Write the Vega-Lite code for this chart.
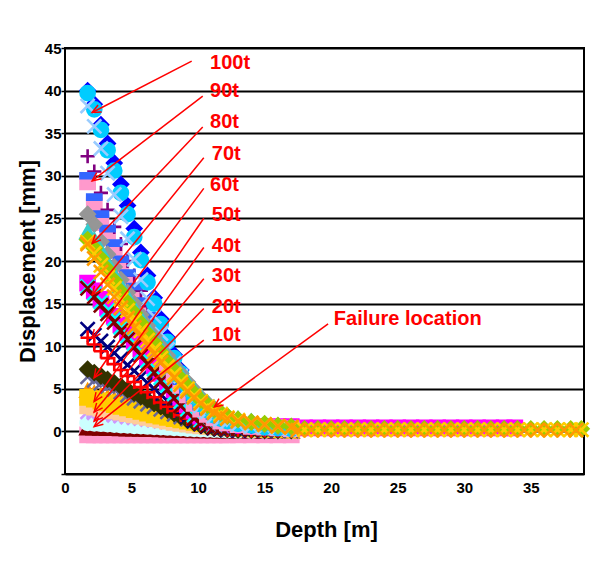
{
"$schema":"https://vega.github.io/schema/vega-lite/v6.json",
"width":519,"height":426,
"autosize":"none",
"padding":{"left":65,"top":48,"right":22,"bottom":87},
"background":"white",
"config":{"font":"Liberation Sans","view":{"stroke":"black","strokeWidth":2}},
"datasets":{
"ann":[
{"t":"100t","tx":10.9,"ty":43.2,"x1":9.52,"y1":43.45,"x2":2.04,"y2":37.43},
{"t":"90t","tx":10.9,"ty":40.0,"x1":10.35,"y1":39.36,"x2":2.04,"y2":29.4},
{"t":"80t","tx":10.9,"ty":36.3,"x1":10.35,"y1":35.73,"x2":2.04,"y2":22.06},
{"t":"70t","tx":11.03,"ty":32.6,"x1":10.43,"y1":32.13,"x2":2.04,"y2":16.02},
{"t":"60t","tx":10.9,"ty":28.9,"x1":10.43,"y1":28.53,"x2":2.04,"y2":10.92},
{"t":"50t","tx":11.03,"ty":25.4,"x1":10.43,"y1":25.02,"x2":2.19,"y2":6.3},
{"t":"40t","tx":11.03,"ty":21.8,"x1":10.43,"y1":21.59,"x2":2.19,"y2":3.52},
{"t":"30t","tx":11.03,"ty":18.2,"x1":10.43,"y1":17.91,"x2":2.19,"y2":2.27},
{"t":"20t","tx":11.03,"ty":14.6,"x1":10.43,"y1":14.42,"x2":2.19,"y2":1.21},
{"t":"10t","tx":11.03,"ty":11.3,"x1":10.43,"y1":10.72,"x2":2.19,"y2":0.56},
{"t":"Failure location","tx":20.2,"ty":13.2,"x1":19.77,"y1":12.63,"x2":11.22,"y2":2.87}
],
"pts":[
{"s":"z10","d":1.7,"v":-0.4},{"s":"z10","d":2.2,"v":-0.4},{"s":"z10","d":2.7,"v":-0.4},{"s":"z10","d":3.2,"v":-0.4},{"s":"z10","d":3.7,"v":-0.4},{"s":"z10","d":4.2,"v":-0.4},{"s":"z10","d":4.7,"v":-0.4},{"s":"z10","d":5.2,"v":-0.4},{"s":"z10","d":5.7,"v":-0.4},{"s":"z10","d":6.2,"v":-0.4},{"s":"z10","d":6.7,"v":-0.4},{"s":"z10","d":7.2,"v":-0.4},{"s":"z10","d":7.7,"v":-0.4},{"s":"z10","d":8.2,"v":-0.4},{"s":"z10","d":8.7,"v":-0.4},{"s":"z10","d":9.2,"v":-0.4},{"s":"z10","d":9.7,"v":-0.4},{"s":"z10","d":10.2,"v":-0.4},{"s":"z10","d":10.7,"v":-0.4},{"s":"z10","d":11.2,"v":-0.4},{"s":"z10","d":11.7,"v":-0.4},{"s":"z10","d":12.2,"v":-0.4},{"s":"z10","d":13,"v":-0.4},{"s":"z10","d":14,"v":-0.4},{"s":"z10","d":15,"v":-0.4},{"s":"z10","d":16,"v":-0.4},{"s":"z10","d":17,"v":-0.4},
{"s":"m10","d":1.7,"v":0.4},{"s":"m10","d":2.2,"v":0.38},{"s":"m10","d":2.7,"v":0.36},{"s":"m10","d":3.2,"v":0.34},{"s":"m10","d":3.7,"v":0.32},{"s":"m10","d":4.2,"v":0.3},{"s":"m10","d":4.7,"v":0.28},{"s":"m10","d":5.2,"v":0.26},{"s":"m10","d":5.7,"v":0.24},{"s":"m10","d":6.2,"v":0.22},{"s":"m10","d":6.7,"v":0.2},{"s":"m10","d":7.2,"v":0.18},{"s":"m10","d":7.7,"v":0.16},{"s":"m10","d":8.2,"v":0.14},{"s":"m10","d":8.7,"v":0.12},{"s":"m10","d":9.2,"v":0.1},{"s":"m10","d":9.7,"v":0.08},{"s":"m10","d":10.2,"v":0.07},{"s":"m10","d":10.7,"v":0.06},{"s":"m10","d":11.2,"v":0.05},{"s":"m10","d":11.7,"v":0.05},{"s":"m10","d":12.2,"v":0.04},{"s":"m10","d":13,"v":0.03},{"s":"m10","d":14,"v":0.03},{"s":"m10","d":15,"v":0.02},{"s":"m10","d":16,"v":0.02},{"s":"m10","d":17,"v":0.02},
{"s":"a20","d":1.7,"v":1.0},{"s":"a20","d":2.2,"v":0.95},{"s":"a20","d":2.7,"v":0.9},{"s":"a20","d":3.2,"v":0.85},{"s":"a20","d":3.7,"v":0.8},{"s":"a20","d":4.2,"v":0.75},{"s":"a20","d":4.7,"v":0.7},{"s":"a20","d":5.2,"v":0.66},{"s":"a20","d":5.7,"v":0.62},{"s":"a20","d":6.2,"v":0.58},{"s":"a20","d":6.7,"v":0.54},{"s":"a20","d":7.2,"v":0.5},{"s":"a20","d":7.7,"v":0.46},{"s":"a20","d":8.2,"v":0.42},{"s":"a20","d":8.7,"v":0.38},{"s":"a20","d":9.2,"v":0.34},{"s":"a20","d":9.7,"v":0.3},{"s":"a20","d":10.2,"v":0.27},{"s":"a20","d":10.7,"v":0.24},{"s":"a20","d":11.2,"v":0.21},{"s":"a20","d":11.7,"v":0.18},{"s":"a20","d":12.2,"v":0.16},{"s":"a20","d":13,"v":0.13},{"s":"a20","d":14,"v":0.11},{"s":"a20","d":15,"v":0.1},{"s":"a20","d":16,"v":0.1},{"s":"a20","d":17,"v":0.1},
{"s":"l30","d":1.7,"v":2.3},{"s":"l30","d":2.2,"v":2.2},{"s":"l30","d":2.7,"v":2.1},{"s":"l30","d":3.2,"v":2.0},{"s":"l30","d":3.7,"v":1.9},{"s":"l30","d":4.2,"v":1.8},{"s":"l30","d":4.7,"v":1.7},{"s":"l30","d":5.2,"v":1.6},{"s":"l30","d":5.7,"v":1.5},{"s":"l30","d":6.2,"v":1.4},{"s":"l30","d":6.7,"v":1.3},{"s":"l30","d":7.2,"v":1.2},{"s":"l30","d":7.7,"v":1.1},{"s":"l30","d":8.2,"v":1.0},{"s":"l30","d":8.7,"v":0.9},{"s":"l30","d":9.2,"v":0.8},{"s":"l30","d":9.7,"v":0.7},{"s":"l30","d":10.2,"v":0.6},{"s":"l30","d":10.7,"v":0.52},{"s":"l30","d":11.2,"v":0.45},{"s":"l30","d":11.7,"v":0.4},{"s":"l30","d":12.2,"v":0.35},{"s":"l30","d":13,"v":0.3},{"s":"l30","d":14,"v":0.25},{"s":"l30","d":15,"v":0.2},{"s":"l30","d":16,"v":0.18},{"s":"l30","d":17,"v":0.15},
{"s":"t30","d":1.7,"v":3.0},{"s":"t30","d":2.2,"v":2.85},{"s":"t30","d":2.7,"v":2.7},{"s":"t30","d":3.2,"v":2.55},{"s":"t30","d":3.7,"v":2.4},{"s":"t30","d":4.2,"v":2.25},{"s":"t30","d":4.7,"v":2.1},{"s":"t30","d":5.2,"v":1.95},{"s":"t30","d":5.7,"v":1.8},{"s":"t30","d":6.2,"v":1.65},{"s":"t30","d":6.7,"v":1.5},{"s":"t30","d":7.2,"v":1.35},{"s":"t30","d":7.7,"v":1.2},{"s":"t30","d":8.2,"v":1.07},{"s":"t30","d":8.7,"v":0.95},{"s":"t30","d":9.2,"v":0.84},{"s":"t30","d":9.7,"v":0.74},{"s":"t30","d":10.2,"v":0.65},{"s":"t30","d":10.7,"v":0.57},{"s":"t30","d":11.2,"v":0.5},{"s":"t30","d":11.7,"v":0.44},{"s":"t30","d":12.2,"v":0.38},{"s":"t30","d":13,"v":0.32},{"s":"t30","d":14,"v":0.26},{"s":"t30","d":15,"v":0.22},{"s":"t30","d":16,"v":0.18},{"s":"t30","d":17,"v":0.15},
{"s":"o40","d":1.7,"v":4.8},{"s":"o40","d":2.2,"v":4.5},{"s":"o40","d":2.7,"v":4.25},{"s":"o40","d":3.2,"v":4.0},{"s":"o40","d":3.7,"v":3.75},{"s":"o40","d":4.2,"v":3.5},{"s":"o40","d":4.7,"v":3.25},{"s":"o40","d":5.2,"v":3.0},{"s":"o40","d":5.7,"v":2.75},{"s":"o40","d":6.2,"v":2.5},{"s":"o40","d":6.7,"v":2.3},{"s":"o40","d":7.2,"v":2.1},{"s":"o40","d":7.7,"v":1.9},{"s":"o40","d":8.2,"v":1.7},{"s":"o40","d":8.7,"v":1.5},{"s":"o40","d":9.2,"v":1.3},{"s":"o40","d":9.7,"v":1.15},{"s":"o40","d":10.2,"v":1.0},{"s":"o40","d":10.7,"v":0.85},{"s":"o40","d":11.2,"v":0.72},{"s":"o40","d":11.7,"v":0.6},{"s":"o40","d":12.2,"v":0.5},{"s":"o40","d":13,"v":0.4},{"s":"o40","d":14,"v":0.3},{"s":"o40","d":15,"v":0.25},{"s":"o40","d":16,"v":0.2},{"s":"o40","d":17,"v":0.18},
{"s":"y40","d":1.7,"v":4.0},{"s":"y40","d":2.2,"v":3.8},{"s":"y40","d":2.7,"v":3.55},{"s":"y40","d":3.2,"v":3.35},{"s":"y40","d":3.7,"v":3.15},{"s":"y40","d":4.2,"v":2.95},{"s":"y40","d":4.7,"v":2.75},{"s":"y40","d":5.2,"v":2.55},{"s":"y40","d":5.7,"v":2.35},{"s":"y40","d":6.2,"v":2.15},{"s":"y40","d":6.7,"v":1.95},{"s":"y40","d":7.2,"v":1.8},{"s":"y40","d":7.7,"v":1.65},{"s":"y40","d":8.2,"v":1.5},{"s":"y40","d":8.7,"v":1.35},{"s":"y40","d":9.2,"v":1.2},{"s":"y40","d":9.7,"v":1.05},{"s":"y40","d":10.2,"v":0.9},{"s":"y40","d":10.7,"v":0.77},{"s":"y40","d":11.2,"v":0.65},{"s":"y40","d":11.7,"v":0.55},{"s":"y40","d":12.2,"v":0.46},{"s":"y40","d":13,"v":0.37},{"s":"y40","d":14,"v":0.3},{"s":"y40","d":15,"v":0.24},{"s":"y40","d":16,"v":0.2},{"s":"y40","d":17,"v":0.16},
{"s":"u50","d":1.7,"v":6.4},{"s":"u50","d":2.2,"v":6.0},{"s":"u50","d":2.7,"v":5.65},{"s":"u50","d":3.2,"v":5.3},{"s":"u50","d":3.7,"v":4.95},{"s":"u50","d":4.2,"v":4.6},{"s":"u50","d":4.7,"v":4.25},{"s":"u50","d":5.2,"v":3.9},{"s":"u50","d":5.7,"v":3.55},{"s":"u50","d":6.2,"v":3.2},{"s":"u50","d":6.7,"v":2.9},{"s":"u50","d":7.2,"v":2.6},{"s":"u50","d":7.7,"v":2.3},{"s":"u50","d":8.2,"v":2.0},{"s":"u50","d":8.7,"v":1.7},{"s":"u50","d":9.2,"v":1.45},{"s":"u50","d":9.7,"v":1.2},{"s":"u50","d":10.2,"v":0.95},{"s":"u50","d":10.7,"v":0.75},{"s":"u50","d":11.2,"v":0.58},{"s":"u50","d":11.7,"v":0.45},{"s":"u50","d":12.2,"v":0.35},{"s":"u50","d":13,"v":0.25},{"s":"u50","d":14,"v":0.18},{"s":"u50","d":15,"v":0.14},{"s":"u50","d":16,"v":0.12},{"s":"u50","d":17,"v":0.1},
{"s":"o50","d":1.7,"v":7.3},{"s":"o50","d":2.2,"v":6.9},{"s":"o50","d":2.7,"v":6.5},{"s":"o50","d":3.2,"v":6.1},{"s":"o50","d":3.7,"v":5.7},{"s":"o50","d":4.2,"v":5.3},{"s":"o50","d":4.7,"v":4.9},{"s":"o50","d":5.2,"v":4.5},{"s":"o50","d":5.7,"v":4.1},{"s":"o50","d":6.2,"v":3.7},{"s":"o50","d":6.7,"v":3.3},{"s":"o50","d":7.2,"v":2.9},{"s":"o50","d":7.7,"v":2.5},{"s":"o50","d":8.2,"v":2.1},{"s":"o50","d":8.7,"v":1.7},{"s":"o50","d":9.2,"v":1.3},{"s":"o50","d":9.7,"v":1.0},{"s":"o50","d":10.2,"v":0.7},{"s":"o50","d":10.7,"v":0.5},{"s":"o50","d":11.2,"v":0.35},{"s":"o50","d":11.7,"v":0.25},{"s":"o50","d":12.2,"v":0.2},{"s":"o50","d":13,"v":0.15},{"s":"o50","d":14,"v":0.12},{"s":"o50","d":15,"v":0.1},{"s":"o50","d":16,"v":0.1},{"s":"o50","d":17,"v":0.1},
{"s":"n60","d":1.7,"v":12.0},{"s":"n60","d":2.2,"v":11.3},{"s":"n60","d":2.7,"v":10.6},{"s":"n60","d":3.2,"v":9.9},{"s":"n60","d":3.7,"v":9.2},{"s":"n60","d":4.2,"v":8.5},{"s":"n60","d":4.7,"v":7.8},{"s":"n60","d":5.2,"v":7.1},{"s":"n60","d":5.7,"v":6.4},{"s":"n60","d":6.2,"v":5.7},{"s":"n60","d":6.7,"v":5.0},{"s":"n60","d":7.2,"v":4.3},{"s":"n60","d":7.7,"v":3.6},{"s":"n60","d":8.2,"v":3.0},{"s":"n60","d":8.7,"v":2.4},{"s":"n60","d":9.2,"v":1.8},{"s":"n60","d":9.7,"v":1.3},{"s":"n60","d":10.2,"v":0.9},{"s":"n60","d":10.7,"v":0.6},{"s":"n60","d":11.2,"v":0.4},{"s":"n60","d":11.7,"v":0.3},{"s":"n60","d":12.2,"v":0.2},{"s":"n60","d":13,"v":0.15},{"s":"n60","d":14,"v":0.1},{"s":"n60","d":15,"v":0.1},{"s":"n60","d":16,"v":0.1},{"s":"n60","d":17,"v":0.1},
{"s":"r60","d":1.7,"v":11.0},{"s":"r60","d":2.2,"v":10.2},{"s":"r60","d":2.7,"v":9.4},{"s":"r60","d":3.2,"v":8.6},{"s":"r60","d":3.7,"v":7.9},{"s":"r60","d":4.2,"v":7.2},{"s":"r60","d":4.7,"v":6.5},{"s":"r60","d":5.2,"v":5.8},{"s":"r60","d":5.7,"v":5.2},{"s":"r60","d":6.2,"v":4.6},{"s":"r60","d":6.7,"v":4.0},{"s":"r60","d":7.2,"v":3.4},{"s":"r60","d":7.7,"v":2.9},{"s":"r60","d":8.2,"v":2.4},{"s":"r60","d":8.7,"v":1.9},{"s":"r60","d":9.2,"v":1.5},{"s":"r60","d":9.7,"v":1.1},{"s":"r60","d":10.2,"v":0.8},{"s":"r60","d":10.7,"v":0.6},{"s":"r60","d":11.2,"v":0.4},{"s":"r60","d":11.7,"v":0.3},{"s":"r60","d":12.2,"v":0.2},{"s":"r60","d":13,"v":0.2},{"s":"r60","d":14,"v":0.1},{"s":"r60","d":15,"v":0.1},{"s":"r60","d":16,"v":0.1},{"s":"r60","d":17,"v":0.1},
{"s":"q70","d":1.7,"v":17.4},{"s":"q70","d":2.2,"v":16.5},{"s":"q70","d":2.7,"v":15.5},{"s":"q70","d":3.2,"v":14.5},{"s":"q70","d":3.7,"v":13.5},{"s":"q70","d":4.2,"v":12.5},{"s":"q70","d":4.7,"v":11.6},{"s":"q70","d":5.2,"v":10.6},{"s":"q70","d":5.7,"v":9.7},{"s":"q70","d":6.2,"v":8.7},{"s":"q70","d":6.7,"v":7.7},{"s":"q70","d":7.2,"v":6.8},{"s":"q70","d":7.7,"v":5.8},{"s":"q70","d":8.2,"v":4.9},{"s":"q70","d":8.7,"v":4.0},{"s":"q70","d":9.2,"v":3.1},{"s":"q70","d":9.7,"v":2.4},{"s":"q70","d":10.2,"v":1.8},{"s":"q70","d":10.7,"v":1.4},{"s":"q70","d":11.2,"v":1.1},{"s":"q70","d":11.7,"v":0.9},{"s":"q70","d":12.2,"v":0.8},{"s":"q70","d":13,"v":0.7},{"s":"q70","d":14,"v":0.6},{"s":"q70","d":15,"v":0.6},{"s":"q70","d":16,"v":0.55},{"s":"q70","d":17,"v":0.55},
{"s":"q70","d":18,"v":0.4},{"s":"q70","d":19,"v":0.4},{"s":"q70","d":20,"v":0.4},{"s":"q70","d":21,"v":0.4},{"s":"q70","d":22,"v":0.4},{"s":"q70","d":23,"v":0.4},{"s":"q70","d":24,"v":0.4},{"s":"q70","d":25,"v":0.4},{"s":"q70","d":26,"v":0.4},{"s":"q70","d":27,"v":0.4},{"s":"q70","d":28,"v":0.4},{"s":"q70","d":29,"v":0.4},{"s":"q70","d":30,"v":0.4},{"s":"q70","d":31,"v":0.4},{"s":"q70","d":32,"v":0.4},{"s":"q70","d":33,"v":0.4},{"s":"q70","d":33.8,"v":0.4},
{"s":"c70","d":1.7,"v":17.0},{"s":"c70","d":2.2,"v":16.2},{"s":"c70","d":2.7,"v":15.2},{"s":"c70","d":3.2,"v":14.2},{"s":"c70","d":3.7,"v":13.2},{"s":"c70","d":4.2,"v":12.2},{"s":"c70","d":4.7,"v":11.2},{"s":"c70","d":5.2,"v":10.3},{"s":"c70","d":5.7,"v":9.3},{"s":"c70","d":6.2,"v":8.3},{"s":"c70","d":6.7,"v":7.3},{"s":"c70","d":7.2,"v":6.3},{"s":"c70","d":7.7,"v":5.4},{"s":"c70","d":8.2,"v":4.4},{"s":"c70","d":8.7,"v":3.5},{"s":"c70","d":9.2,"v":2.6},{"s":"c70","d":9.7,"v":1.9},{"s":"c70","d":10.2,"v":1.3},{"s":"c70","d":10.7,"v":0.9},{"s":"c70","d":11.2,"v":0.6},{"s":"c70","d":11.7,"v":0.45},{"s":"c70","d":12.2,"v":0.35},{"s":"c70","d":13,"v":0.3},{"s":"c70","d":14,"v":0.25},{"s":"c70","d":15,"v":0.2},{"s":"c70","d":16,"v":0.2},{"s":"c70","d":17,"v":0.2},
{"s":"m70","d":1.7,"v":16.8},{"s":"m70","d":2.2,"v":15.8},{"s":"m70","d":2.7,"v":14.8},{"s":"m70","d":3.2,"v":13.8},{"s":"m70","d":3.7,"v":12.8},{"s":"m70","d":4.2,"v":11.8},{"s":"m70","d":4.7,"v":10.8},{"s":"m70","d":5.2,"v":9.9},{"s":"m70","d":5.7,"v":8.9},{"s":"m70","d":6.2,"v":7.9},{"s":"m70","d":6.7,"v":6.9},{"s":"m70","d":7.2,"v":5.9},{"s":"m70","d":7.7,"v":4.9},{"s":"m70","d":8.2,"v":3.9},{"s":"m70","d":8.7,"v":3.0},{"s":"m70","d":9.2,"v":2.2},{"s":"m70","d":9.7,"v":1.5},{"s":"m70","d":10.2,"v":1.0},{"s":"m70","d":10.7,"v":0.7},{"s":"m70","d":11.2,"v":0.5},{"s":"m70","d":11.7,"v":0.4},{"s":"m70","d":12.2,"v":0.3},{"s":"m70","d":13,"v":0.3},{"s":"m70","d":14,"v":0.2},{"s":"m70","d":15,"v":0.2},{"s":"m70","d":16,"v":0.2},{"s":"m70","d":17,"v":0.2},
{"s":"k90","d":1.7,"v":29.3},{"s":"k90","d":2.2,"v":26.5},{"s":"k90","d":2.7,"v":24.5},{"s":"k90","d":3.2,"v":23.0},{"s":"k90","d":3.7,"v":21.3},{"s":"k90","d":4.2,"v":19.3},{"s":"k90","d":4.7,"v":17.7},{"s":"k90","d":5.2,"v":16.2},{"s":"k90","d":5.7,"v":14.5},{"s":"k90","d":6.2,"v":12.8},{"s":"k90","d":6.7,"v":11.2},{"s":"k90","d":7.2,"v":9.6},{"s":"k90","d":7.7,"v":8.1},{"s":"k90","d":8.2,"v":6.7},{"s":"k90","d":8.7,"v":5.4},{"s":"k90","d":9.2,"v":4.3},{"s":"k90","d":9.7,"v":3.3},{"s":"k90","d":10.2,"v":2.6},{"s":"k90","d":10.7,"v":2.0},{"s":"k90","d":11.2,"v":1.6},{"s":"k90","d":11.7,"v":1.2},{"s":"k90","d":12.2,"v":1.0},{"s":"k90","d":13,"v":0.8},{"s":"k90","d":14,"v":0.6},{"s":"k90","d":15,"v":0.5},{"s":"k90","d":16,"v":0.4},{"s":"k90","d":17,"v":0.3},
{"s":"p90","d":1.7,"v":32.3},{"s":"p90","d":2.2,"v":30.5},{"s":"p90","d":2.7,"v":28.0},{"s":"p90","d":3.2,"v":26.0},{"s":"p90","d":3.7,"v":24.0},{"s":"p90","d":4.2,"v":22.0},{"s":"p90","d":4.7,"v":20.0},{"s":"p90","d":5.2,"v":18.3},{"s":"p90","d":5.7,"v":16.5},{"s":"p90","d":6.2,"v":14.7},{"s":"p90","d":6.7,"v":13.0},{"s":"p90","d":7.2,"v":11.2},{"s":"p90","d":7.7,"v":9.5},{"s":"p90","d":8.2,"v":8.0},{"s":"p90","d":8.7,"v":6.5},{"s":"p90","d":9.2,"v":5.2},{"s":"p90","d":9.7,"v":4.0},{"s":"p90","d":10.2,"v":3.1},{"s":"p90","d":10.7,"v":2.4},{"s":"p90","d":11.2,"v":1.8},{"s":"p90","d":11.7,"v":1.4},{"s":"p90","d":12.2,"v":1.1},{"s":"p90","d":13,"v":0.8},{"s":"p90","d":14,"v":0.6},{"s":"p90","d":15,"v":0.5},{"s":"p90","d":16,"v":0.4},{"s":"p90","d":17,"v":0.3},
{"s":"d90","d":1.7,"v":30.0},{"s":"d90","d":2.2,"v":27.5},{"s":"d90","d":2.7,"v":25.5},{"s":"d90","d":3.2,"v":23.8},{"s":"d90","d":3.7,"v":22.1},{"s":"d90","d":4.2,"v":20.2},{"s":"d90","d":4.7,"v":18.6},{"s":"d90","d":5.2,"v":17.0},{"s":"d90","d":5.7,"v":15.3},{"s":"d90","d":6.2,"v":13.6},{"s":"d90","d":6.7,"v":12.0},{"s":"d90","d":7.2,"v":10.4},{"s":"d90","d":7.7,"v":8.8},{"s":"d90","d":8.2,"v":7.3},{"s":"d90","d":8.7,"v":5.9},{"s":"d90","d":9.2,"v":4.7},{"s":"d90","d":9.7,"v":3.7},{"s":"d90","d":10.2,"v":2.9},{"s":"d90","d":10.7,"v":2.3},{"s":"d90","d":11.2,"v":1.8},{"s":"d90","d":11.7,"v":1.4},{"s":"d90","d":12.2,"v":1.1},{"s":"d90","d":13,"v":0.8},{"s":"d90","d":14,"v":0.6},{"s":"d90","d":15,"v":0.5},{"s":"d90","d":16,"v":0.4},{"s":"d90","d":17,"v":0.3},
{"s":"b100","d":1.7,"v":40.0},{"s":"b100","d":2.2,"v":38.4},{"s":"b100","d":2.7,"v":36.0},{"s":"b100","d":3.2,"v":33.8},{"s":"b100","d":3.7,"v":31.5},{"s":"b100","d":4.2,"v":29.0},{"s":"b100","d":4.7,"v":26.5},{"s":"b100","d":5.2,"v":23.8},{"s":"b100","d":5.7,"v":21.0},{"s":"b100","d":6.2,"v":18.3},{"s":"b100","d":6.7,"v":15.7},{"s":"b100","d":7.2,"v":13.2},{"s":"b100","d":7.7,"v":11.0},{"s":"b100","d":8.2,"v":9.0},{"s":"b100","d":8.7,"v":7.2},{"s":"b100","d":9.2,"v":5.6},{"s":"b100","d":9.7,"v":4.3},{"s":"b100","d":10.2,"v":3.3},{"s":"b100","d":10.7,"v":2.6},{"s":"b100","d":11.2,"v":2.0},{"s":"b100","d":11.7,"v":1.6},{"s":"b100","d":12.2,"v":1.3},{"s":"b100","d":13,"v":1.0},{"s":"b100","d":14,"v":0.7},{"s":"b100","d":15,"v":0.5},{"s":"b100","d":16,"v":0.4},{"s":"b100","d":17,"v":0.3},
{"s":"c100","d":1.7,"v":39.7},{"s":"c100","d":2.2,"v":37.8},{"s":"c100","d":2.7,"v":35.4},{"s":"c100","d":3.2,"v":33.0},{"s":"c100","d":3.7,"v":30.6},{"s":"c100","d":4.2,"v":28.0},{"s":"c100","d":4.7,"v":25.5},{"s":"c100","d":5.2,"v":22.8},{"s":"c100","d":5.7,"v":20.1},{"s":"c100","d":6.2,"v":17.5},{"s":"c100","d":6.7,"v":15.0},{"s":"c100","d":7.2,"v":12.6},{"s":"c100","d":7.7,"v":10.5},{"s":"c100","d":8.2,"v":8.6},{"s":"c100","d":8.7,"v":6.8},{"s":"c100","d":9.2,"v":5.3},{"s":"c100","d":9.7,"v":4.1},{"s":"c100","d":10.2,"v":3.2},{"s":"c100","d":10.7,"v":2.5},{"s":"c100","d":11.2,"v":1.9},{"s":"c100","d":11.7,"v":1.5},{"s":"c100","d":12.2,"v":1.2},{"s":"c100","d":13,"v":0.9},{"s":"c100","d":14,"v":0.7},{"s":"c100","d":15,"v":0.5},{"s":"c100","d":16,"v":0.4},{"s":"c100","d":17,"v":0.3},
{"s":"x100","d":1.7,"v":38.2},{"s":"x100","d":2.2,"v":35.8},{"s":"x100","d":2.7,"v":33.2},{"s":"x100","d":3.2,"v":30.3},{"s":"x100","d":3.7,"v":27.8},{"s":"x100","d":4.2,"v":25.2},{"s":"x100","d":4.7,"v":22.6},{"s":"x100","d":5.2,"v":20.2},{"s":"x100","d":5.7,"v":17.8},{"s":"x100","d":6.2,"v":15.6},{"s":"x100","d":6.7,"v":13.5},{"s":"x100","d":7.2,"v":11.5},{"s":"x100","d":7.7,"v":9.6},{"s":"x100","d":8.2,"v":8.0},{"s":"x100","d":8.7,"v":6.5},{"s":"x100","d":9.2,"v":5.1},{"s":"x100","d":9.7,"v":3.9},{"s":"x100","d":10.2,"v":3.0},{"s":"x100","d":10.7,"v":2.3},{"s":"x100","d":11.2,"v":1.8},{"s":"x100","d":11.7,"v":1.4},{"s":"x100","d":12.2,"v":1.1},{"s":"x100","d":13,"v":0.8},{"s":"x100","d":14,"v":0.6},{"s":"x100","d":15,"v":0.5},{"s":"x100","d":16,"v":0.4},{"s":"x100","d":17,"v":0.3},
{"s":"r80","d":1.7,"v":25.5},{"s":"r80","d":2.2,"v":24.3},{"s":"r80","d":2.7,"v":22.3},{"s":"r80","d":3.2,"v":20.8},{"s":"r80","d":3.7,"v":19.3},{"s":"r80","d":4.2,"v":17.8},{"s":"r80","d":4.7,"v":16.3},{"s":"r80","d":5.2,"v":15.0},{"s":"r80","d":5.7,"v":13.7},{"s":"r80","d":6.2,"v":12.4},{"s":"r80","d":6.7,"v":11.2},{"s":"r80","d":7.2,"v":10.0},{"s":"r80","d":7.7,"v":8.9},{"s":"r80","d":8.2,"v":7.8},{"s":"r80","d":8.7,"v":6.8},{"s":"r80","d":9.2,"v":5.8},{"s":"r80","d":9.7,"v":4.9},{"s":"r80","d":10.2,"v":4.0},{"s":"r80","d":10.7,"v":3.3},{"s":"r80","d":11.2,"v":2.7},{"s":"r80","d":11.7,"v":2.2},{"s":"r80","d":12.2,"v":1.8},{"s":"r80","d":13,"v":1.4},{"s":"r80","d":14,"v":1.1},{"s":"r80","d":15,"v":0.8},{"s":"r80","d":16,"v":0.6},{"s":"r80","d":17,"v":0.5},
{"s":"t80","d":1.7,"v":23.4},{"s":"t80","d":2.2,"v":22.5},{"s":"t80","d":2.7,"v":21.2},{"s":"t80","d":3.2,"v":19.8},{"s":"t80","d":3.7,"v":18.4},{"s":"t80","d":4.2,"v":17.1},{"s":"t80","d":4.7,"v":15.8},{"s":"t80","d":5.2,"v":14.5},{"s":"t80","d":5.7,"v":13.3},{"s":"t80","d":6.2,"v":12.1},{"s":"t80","d":6.7,"v":10.9},{"s":"t80","d":7.2,"v":9.8},{"s":"t80","d":7.7,"v":8.7},{"s":"t80","d":8.2,"v":7.7},{"s":"t80","d":8.7,"v":6.7},{"s":"t80","d":9.2,"v":5.8},{"s":"t80","d":9.7,"v":4.9},{"s":"t80","d":10.2,"v":4.1},{"s":"t80","d":10.7,"v":3.4},{"s":"t80","d":11.2,"v":2.8},{"s":"t80","d":11.7,"v":2.3},{"s":"t80","d":12.2,"v":1.9},{"s":"t80","d":13,"v":1.5},{"s":"t80","d":14,"v":1.2},{"s":"t80","d":15,"v":0.9},{"s":"t80","d":16,"v":0.7},{"s":"t80","d":17,"v":0.6},
{"s":"g80","d":1.7,"v":22.5},{"s":"g80","d":2.2,"v":21.5},{"s":"g80","d":2.7,"v":20.3},{"s":"g80","d":3.2,"v":19.0},{"s":"g80","d":3.7,"v":17.7},{"s":"g80","d":4.2,"v":16.4},{"s":"g80","d":4.7,"v":15.1},{"s":"g80","d":5.2,"v":13.9},{"s":"g80","d":5.7,"v":12.7},{"s":"g80","d":6.2,"v":11.5},{"s":"g80","d":6.7,"v":10.4},{"s":"g80","d":7.2,"v":9.3},{"s":"g80","d":7.7,"v":8.2},{"s":"g80","d":8.2,"v":7.2},{"s":"g80","d":8.7,"v":6.2},{"s":"g80","d":9.2,"v":5.3},{"s":"g80","d":9.7,"v":4.5},{"s":"g80","d":10.2,"v":3.7},{"s":"g80","d":10.7,"v":3.1},{"s":"g80","d":11.2,"v":2.6},{"s":"g80","d":11.7,"v":2.2},{"s":"g80","d":12.2,"v":1.8},{"s":"g80","d":13,"v":1.4},{"s":"g80","d":14,"v":1.1},{"s":"g80","d":15,"v":0.9},{"s":"g80","d":16,"v":0.7},{"s":"g80","d":17,"v":0.6},
{"s":"g80","d":18,"v":0.3},{"s":"g80","d":19,"v":0.3},{"s":"g80","d":20,"v":0.3},{"s":"g80","d":21,"v":0.3},{"s":"g80","d":22,"v":0.3},{"s":"g80","d":23,"v":0.3},{"s":"g80","d":24,"v":0.3},{"s":"g80","d":25,"v":0.3},{"s":"g80","d":26,"v":0.3},{"s":"g80","d":27,"v":0.3},{"s":"g80","d":28,"v":0.3},{"s":"g80","d":29,"v":0.3},{"s":"g80","d":30,"v":0.3},{"s":"g80","d":31,"v":0.3},{"s":"g80","d":32,"v":0.3},{"s":"g80","d":33,"v":0.3},{"s":"g80","d":34,"v":0.3},{"s":"g80","d":35,"v":0.3},{"s":"g80","d":36,"v":0.3},{"s":"g80","d":37,"v":0.3},{"s":"g80","d":38,"v":0.3},{"s":"g80","d":38.8,"v":0.3},
{"s":"y80","d":1.7,"v":22.2},{"s":"y80","d":2.2,"v":20.9},{"s":"y80","d":2.7,"v":19.5},{"s":"y80","d":3.2,"v":18.1},{"s":"y80","d":3.7,"v":16.8},{"s":"y80","d":4.2,"v":15.5},{"s":"y80","d":4.7,"v":14.2},{"s":"y80","d":5.2,"v":13.0},{"s":"y80","d":5.7,"v":11.8},{"s":"y80","d":6.2,"v":10.7},{"s":"y80","d":6.7,"v":9.6},{"s":"y80","d":7.2,"v":8.6},{"s":"y80","d":7.7,"v":7.6},{"s":"y80","d":8.2,"v":6.7},{"s":"y80","d":8.7,"v":5.8},{"s":"y80","d":9.2,"v":5.0},{"s":"y80","d":9.7,"v":4.2},{"s":"y80","d":10.2,"v":3.5},{"s":"y80","d":10.7,"v":2.9},{"s":"y80","d":11.2,"v":2.4},{"s":"y80","d":11.7,"v":2.0},{"s":"y80","d":12.2,"v":1.6},{"s":"y80","d":13,"v":1.3},{"s":"y80","d":14,"v":1.0},{"s":"y80","d":15,"v":0.8},{"s":"y80","d":16,"v":0.6},{"s":"y80","d":17,"v":0.5},
{"s":"y80","d":18,"v":0.2},{"s":"y80","d":19,"v":0.2},{"s":"y80","d":20,"v":0.2},{"s":"y80","d":21,"v":0.2},{"s":"y80","d":22,"v":0.2},{"s":"y80","d":23,"v":0.2},{"s":"y80","d":24,"v":0.2},{"s":"y80","d":25,"v":0.2},{"s":"y80","d":26,"v":0.2},{"s":"y80","d":27,"v":0.2},{"s":"y80","d":28,"v":0.2},{"s":"y80","d":29,"v":0.2},{"s":"y80","d":30,"v":0.2},{"s":"y80","d":31,"v":0.2},{"s":"y80","d":32,"v":0.2},{"s":"y80","d":33,"v":0.2},{"s":"y80","d":34,"v":0.2},{"s":"y80","d":35,"v":0.2},{"s":"y80","d":36,"v":0.2},{"s":"y80","d":37,"v":0.2},{"s":"y80","d":38,"v":0.2},{"s":"y80","d":38.8,"v":0.2},
{"s":"o80","d":1.7,"v":22.0},{"s":"o80","d":2.2,"v":20.3},{"s":"o80","d":2.7,"v":18.7},{"s":"o80","d":3.2,"v":17.2},{"s":"o80","d":3.7,"v":15.8},{"s":"o80","d":4.2,"v":14.5},{"s":"o80","d":4.7,"v":13.3},{"s":"o80","d":5.2,"v":12.2},{"s":"o80","d":5.7,"v":11.1},{"s":"o80","d":6.2,"v":10.1},{"s":"o80","d":6.7,"v":9.1},{"s":"o80","d":7.2,"v":8.1},{"s":"o80","d":7.7,"v":7.2},{"s":"o80","d":8.2,"v":6.3},{"s":"o80","d":8.7,"v":5.5},{"s":"o80","d":9.2,"v":4.7},{"s":"o80","d":9.7,"v":4.0},{"s":"o80","d":10.2,"v":3.3},{"s":"o80","d":10.7,"v":2.7},{"s":"o80","d":11.2,"v":2.2},{"s":"o80","d":11.7,"v":1.8},{"s":"o80","d":12.2,"v":1.5},{"s":"o80","d":13,"v":1.2},{"s":"o80","d":14,"v":1.0},{"s":"o80","d":15,"v":0.8},{"s":"o80","d":16,"v":0.6},{"s":"o80","d":17,"v":0.5},
{"s":"o80","d":17.5,"v":0.15},{"s":"o80","d":18.5,"v":0.15},{"s":"o80","d":19.5,"v":0.15},{"s":"o80","d":20.5,"v":0.15},{"s":"o80","d":21.5,"v":0.15},{"s":"o80","d":22.5,"v":0.15},{"s":"o80","d":23.5,"v":0.15},{"s":"o80","d":24.5,"v":0.15},{"s":"o80","d":25.5,"v":0.15},{"s":"o80","d":26.5,"v":0.15},{"s":"o80","d":27.5,"v":0.15},{"s":"o80","d":28.5,"v":0.15},{"s":"o80","d":29.5,"v":0.15},{"s":"o80","d":30.5,"v":0.15},{"s":"o80","d":31.5,"v":0.15},{"s":"o80","d":32.5,"v":0.15},{"s":"o80","d":33.5,"v":0.15},{"s":"o80","d":34.5,"v":0.15},{"s":"o80","d":35.5,"v":0.15},{"s":"o80","d":36.5,"v":0.15},{"s":"o80","d":37.5,"v":0.15},{"s":"o80","d":38.4,"v":0.15}
]
},
"layer":[
{
"data":{"name":"pts"},
"mark":{"type":"point","filled":true,"size":200,"strokeWidth":2.6,"opacity":1},
"encoding":{
"x":{"field":"d","type":"quantitative","scale":{"domain":[0,39],"nice":false,"zero":false},
"axis":{"title":"Depth [m]","values":[0,5,10,15,20,25,30,35],"grid":false,"ticks":false,"domain":false,"labelFontSize":15,"labelFontWeight":"bold","labelColor":"black","labelPadding":6,"labelFlush":false,"titleFontSize":22,"titleFontWeight":"bold","titleColor":"black","titleX":261,"titleY":55,"titleBaseline":"middle","titleAlign":"center"}},
"y":{"field":"v","type":"quantitative","scale":{"domain":[-5,45],"nice":false,"zero":false},
"axis":{"title":"Displacement [mm]","values":[-5,0,5,10,15,20,25,30,35,40,45],"grid":true,"gridColor":"black","gridWidth":2,"gridOpacity":1,"domain":false,"ticks":true,"tickSize":4,"tickColor":"black","tickWidth":1.5,"labelFontSize":15,"labelFontWeight":"bold","labelColor":"black","labelPadding":0,"labelFlush":false,"labelExpr":"datum.value < 0 ? '' : datum.label","encode":{"labels":{"update":{"dy":{"signal":"(45 - datum.value) * 0.29"}}}},"titleFontSize":22,"titleFontWeight":"bold","titleColor":"black","titleX":-38,"titleY":213,"titleAngle":-90,"titleBaseline":"middle","titleAlign":"center"}},
"shape":{"field":"s","type":"nominal","legend":null,"scale":{
"domain":["z10","m10","a20","l30","t30","o40","y40","u50","o50","n60","r60","q70","c70","m70","k90","p90","d90","b100","c100","x100","r80","t80","g80","y80","o80"],
"range":["square","triangle-up","circle","M-1,-1L1,1M-1,1L1,-1M0,-1L0,1","square","triangle-up","square","M-1,-1L1,1M-1,1L1,-1","diamond","M-1,-1L1,1M-1,1L1,-1","M0,-1L0,1M-1,0L1,0","square","M-1,-1L1,1M-1,1L1,-1","M-1,-1L1,1M-1,1L1,-1","square","M0,-1L0,1M-1,0L1,0","M-1,-0.35L1,-0.35L1,0.35L-1,0.35Z","diamond","circle","M-1,-1L1,1M-1,1L1,-1","diamond","triangle-up","diamond","M-1,-1L1,1M-1,1L1,-1","M-1,-1L1,1M-1,1L1,-1"]}},
"fill":{"field":"s","type":"nominal","legend":null,"scale":{
"domain":["z10","m10","a20","l30","t30","o40","y40","u50","o50","n60","r60","q70","c70","m70","k90","p90","d90","b100","c100","x100","r80","t80","g80","y80","o80"],
"range":["#FF99CC","#800000","#CCFFFF","#CC99FF","#FFCC99","#FF9900","#FFCC00","#666699","#333300","#000080","#FF0000","#FF00FF","#00FFFF","#800000","#FF99CC","#800080","#3366FF","#0000FF","#00CCFF","#99CCFF","#969696","#33CCCC","#99CC00","#FFCC00","#FF9900"]}},
"stroke":{"field":"s","type":"nominal","legend":null,"scale":{
"domain":["z10","m10","a20","l30","t30","o40","y40","u50","o50","n60","r60","q70","c70","m70","k90","p90","d90","b100","c100","x100","r80","t80","g80","y80","o80"],
"range":["#FF99CC","#800000","#CCFFFF","#CC99FF","#FFCC99","#FF9900","#FFCC00","#666699","#333300","#000080","#FF0000","#FF00FF","#00FFFF","#800000","#FF99CC","#800080","#3366FF","#0000FF","#00CCFF","#99CCFF","#969696","#33CCCC","#99CC00","#FFCC00","#FF9900"]}}
}
},
{
"data":{"name":"ann"},
"mark":{"type":"rule","color":"#FF0000","strokeWidth":1.5},
"encoding":{
"x":{"field":"x1","type":"quantitative","title":"Depth [m]","scale":{"domain":[0,39],"nice":false,"zero":false}},
"y":{"field":"y1","type":"quantitative","title":"Displacement [mm]","scale":{"domain":[-5,45],"nice":false,"zero":false}},
"x2":{"field":"x2"},
"y2":{"field":"y2"}
}
},
{
"data":{"name":"ann"},
"transform":[{"calculate":"atan2(-(datum.x2-datum.x1)*519/39, -(datum.y2-datum.y1)*426/50)*180/PI","as":"ang"}],
"mark":{"type":"point","filled":false,"shape":"M-0.45,-1L0,0L0.45,-1","size":300,"color":"#FF0000","strokeWidth":1.5,"opacity":1},
"encoding":{
"x":{"field":"x2","type":"quantitative","title":"Depth [m]","scale":{"domain":[0,39],"nice":false,"zero":false}},
"y":{"field":"y2","type":"quantitative","title":"Displacement [mm]","scale":{"domain":[-5,45],"nice":false,"zero":false}},
"angle":{"field":"ang","type":"quantitative","scale":null}
}
},
{
"data":{"name":"ann"},
"mark":{"type":"text","color":"#FF0000","fontSize":20,"fontWeight":"bold","align":"left","baseline":"middle"},
"encoding":{
"x":{"field":"tx","type":"quantitative","title":"Depth [m]","scale":{"domain":[0,39],"nice":false,"zero":false}},
"y":{"field":"ty","type":"quantitative","title":"Displacement [mm]","scale":{"domain":[-5,45],"nice":false,"zero":false}},
"text":{"field":"t"}
}
}
]
}
